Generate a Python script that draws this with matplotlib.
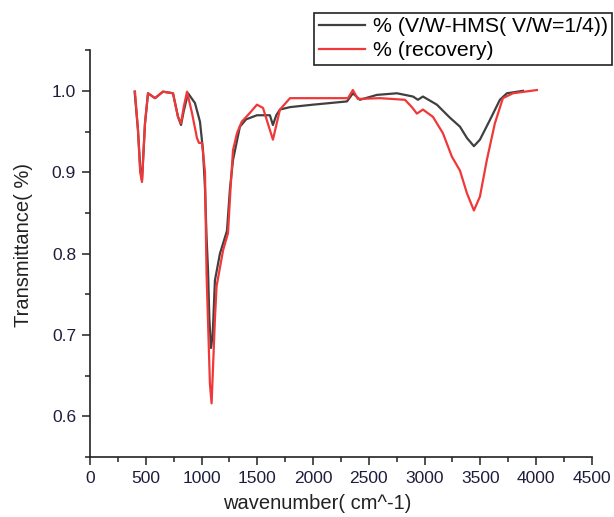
import numpy as np
import matplotlib
matplotlib.use("Agg")
from matplotlib import pyplot as plt
from matplotlib.ticker import MultipleLocator

plt.rcParams['font.family'] = ['Liberation Sans', 'DejaVu Sans']

# V/W-HMS (V/W = 1/4) spectrum
wn_hms = [400, 430, 450, 466, 493, 520, 583, 654, 744, 789, 816, 840, 879, 941,
          986, 1013, 1031, 1045, 1058, 1070, 1085, 1100, 1120, 1165, 1228, 1255,
          1282, 1344, 1400, 1497, 1613, 1640, 1670, 1703, 1793, 2000, 2304, 2357,
          2420, 2572, 2752, 2896, 2940, 2985, 3110, 3227, 3317, 3380, 3442, 3496,
          3585, 3675, 3738, 3882]
tr_hms = [0.999, 0.952, 0.905, 0.890, 0.960, 0.997, 0.991, 0.999, 0.997, 0.968,
          0.958, 0.975, 0.997, 0.985, 0.962, 0.927, 0.880, 0.820, 0.780, 0.720,
          0.684, 0.700, 0.767, 0.800, 0.828, 0.880, 0.915, 0.956, 0.965, 0.970,
          0.970, 0.958, 0.970, 0.977, 0.980, 0.983, 0.987, 0.997, 0.989, 0.995,
          0.997, 0.993, 0.989, 0.993, 0.983, 0.967, 0.956, 0.942, 0.932, 0.940,
          0.964, 0.989, 0.997, 1.000]

# recovered sample spectrum
wn_rec = [403, 430, 450, 466, 493, 520, 583, 654, 744, 789, 816, 840, 870, 914,
          959, 977, 1004, 1031, 1040, 1045, 1058, 1075, 1090, 1100, 1120, 1135,
          1193, 1237, 1260, 1282, 1318, 1360, 1434, 1497, 1551, 1640, 1703, 1793,
          1855, 2313, 2357, 2402, 2600, 2824, 2886, 2931, 2985, 3075, 3164, 3245,
          3317, 3380, 3442, 3496, 3558, 3630, 3702, 3792, 4007]
tr_rec = [0.999, 0.952, 0.900, 0.888, 0.960, 0.997, 0.991, 0.999, 0.997, 0.968,
          0.960, 0.980, 0.999, 0.973, 0.942, 0.936, 0.936, 0.900, 0.816, 0.775,
          0.717, 0.640, 0.616, 0.650, 0.720, 0.760, 0.804, 0.825, 0.880, 0.927,
          0.948, 0.962, 0.973, 0.983, 0.979, 0.940, 0.977, 0.991, 0.991, 0.991,
          1.001, 0.990, 0.991, 0.989, 0.980, 0.972, 0.977, 0.968, 0.948, 0.919,
          0.902, 0.874, 0.853, 0.870, 0.915, 0.960, 0.991, 0.997, 1.001]

fig = plt.figure(figsize=(6.14, 5.17), dpi=100)
ax = fig.add_axes([0.1466, 0.116, 0.8174, 0.787])

ax.plot(wn_hms, tr_hms, '-', color='#404040', lw=1.6, label='% (V/W-HMS( V/W=1/4))')
ax.plot(wn_rec, tr_rec, '-', color='#f03838', lw=1.6, label='% (recovery)')

ax.set_xlim(0, 4500)
ax.set_ylim(0.55, 1.05)
ax.xaxis.set_major_locator(MultipleLocator(500))
ax.xaxis.set_minor_locator(MultipleLocator(250))
ax.yaxis.set_minor_locator(MultipleLocator(0.05))
ax.set_yticks([0.6, 0.7, 0.8, 0.9, 1.0])
ax.set_yticklabels(['0.6', '0.7', '0.8', '0.9', '1.0'])

for s in ['top', 'right']:
    ax.spines[s].set_visible(False)
for s in ['left', 'bottom']:
    ax.spines[s].set_linewidth(1.2)
    ax.spines[s].set_color('#222222')

ax.tick_params(which='major', direction='out', length=6, width=1.1,
               labelsize=12.5, colors='#222222', labelcolor='#1e1e3c', pad=4)
ax.tick_params(which='minor', direction='out', length=3.5, width=1.1, colors='#222222')

ax.set_xlabel('wavenumber( cm^-1)', fontsize=14.5, color='#222222')
ax.set_ylabel('Transmittance( %)', fontsize=14.5, color='#222222')
ax.xaxis.set_label_coords(0.452, -0.09)
ax.yaxis.set_label_coords(-0.114, 0.52)

leg = fig.legend(loc='upper right', bbox_to_anchor=(0.997, 0.975), fontsize=15.3,
                 frameon=True, fancybox=False, edgecolor='#222222', framealpha=1,
                 handlelength=2.2, handletextpad=0.35, borderpad=0.2,
                 labelspacing=0.25, borderaxespad=0)
leg.get_frame().set_linewidth(1.2)

fig.savefig('out.png', dpi=100)
